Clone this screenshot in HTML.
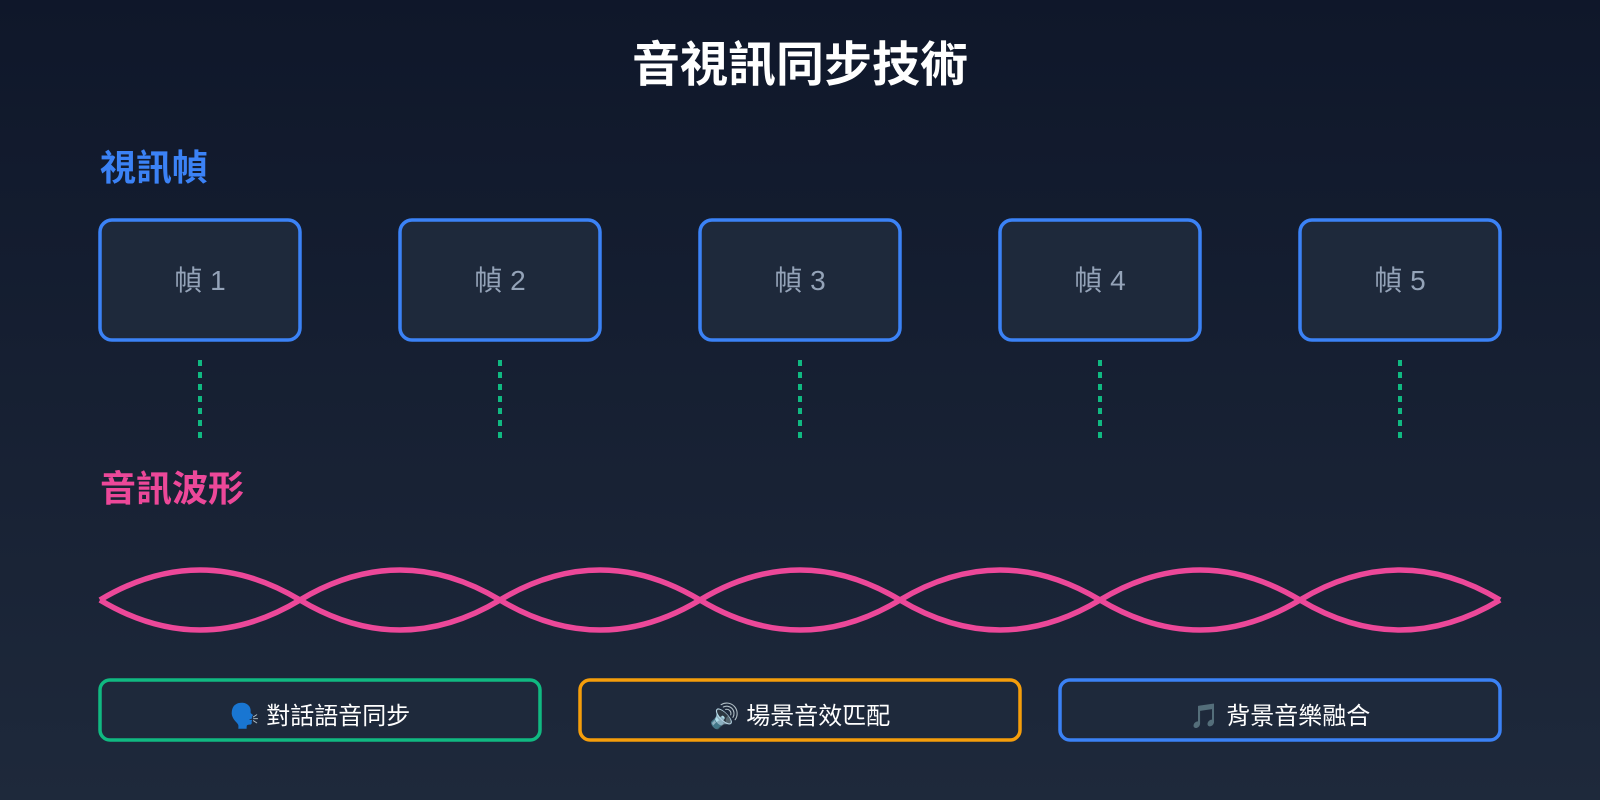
<!DOCTYPE html>
<html>
<head>
<meta charset="utf-8">
<style>
html,body{margin:0;padding:0;width:1600px;height:800px;overflow:hidden;}
body{background:linear-gradient(180deg,#0f172a 0%,#1e293b 100%);}
svg{display:block;}
text{font-family:"Liberation Sans","Noto Sans CJK TC","Noto Sans CJK SC",sans-serif;}
</style>
</head>
<body>
<svg width="1600" height="800" viewBox="0 0 1600 800" xmlns="http://www.w3.org/2000/svg">
  <defs>
    <linearGradient id="bg" x1="0" y1="0" x2="0" y2="1">
      <stop offset="0" stop-color="#0f172a"/>
      <stop offset="1" stop-color="#1e293b"/>
    </linearGradient>
  </defs>
  <rect x="0" y="0" width="1600" height="800" fill="url(#bg)"/>

  <text x="800" y="81" text-anchor="middle" font-size="48" font-weight="bold" fill="#ffffff">音視訊同步技術</text>

  <text x="100" y="180" font-size="36" font-weight="bold" fill="#3b82f6">視訊幀</text>

  <g fill="#1e293b" stroke="#3b82f6" stroke-width="3.5">
    <rect x="100" y="220" width="200" height="120" rx="12"/>
    <rect x="400" y="220" width="200" height="120" rx="12"/>
    <rect x="700" y="220" width="200" height="120" rx="12"/>
    <rect x="1000" y="220" width="200" height="120" rx="12"/>
    <rect x="1300" y="220" width="200" height="120" rx="12"/>
  </g>
  <g font-size="28" fill="#94a3b8" text-anchor="middle">
    <text x="200" y="290">幀 1</text>
    <text x="500" y="290">幀 2</text>
    <text x="800" y="290">幀 3</text>
    <text x="1100" y="290">幀 4</text>
    <text x="1400" y="290">幀 5</text>
  </g>

  <g stroke="#10b981" stroke-width="4" stroke-dasharray="6,6">
    <line x1="200" y1="360" x2="200" y2="440"/>
    <line x1="500" y1="360" x2="500" y2="440"/>
    <line x1="800" y1="360" x2="800" y2="440"/>
    <line x1="1100" y1="360" x2="1100" y2="440"/>
    <line x1="1400" y1="360" x2="1400" y2="440"/>
  </g>

  <text x="100" y="501" font-size="36" font-weight="bold" fill="#ec4899">音訊波形</text>

  <g fill="none" stroke="#ec4899" stroke-width="5.5">
    <path d="M100 600 Q200 540 300 600 T500 600 T700 600 T900 600 T1100 600 T1300 600 T1500 600"/>
    <path d="M100 600 Q200 660 300 600 T500 600 T700 600 T900 600 T1100 600 T1300 600 T1500 600"/>
  </g>

  <g fill="#1e293b" stroke-width="3.5">
    <rect x="100" y="680" width="440" height="60" rx="10" stroke="#10b981"/>
    <rect x="580" y="680" width="440" height="60" rx="10" stroke="#f59e0b"/>
    <rect x="1060" y="680" width="440" height="60" rx="10" stroke="#3b82f6"/>
  </g>
  <g font-size="24" fill="#ffffff" text-anchor="middle">
    <text x="320" y="724">🗣️ 對話語音同步</text>
    <text x="800" y="724">🔊 場景音效匹配</text>
    <text x="1280" y="724">🎵 背景音樂融合</text>
  </g>
</svg>
</body>
</html>
